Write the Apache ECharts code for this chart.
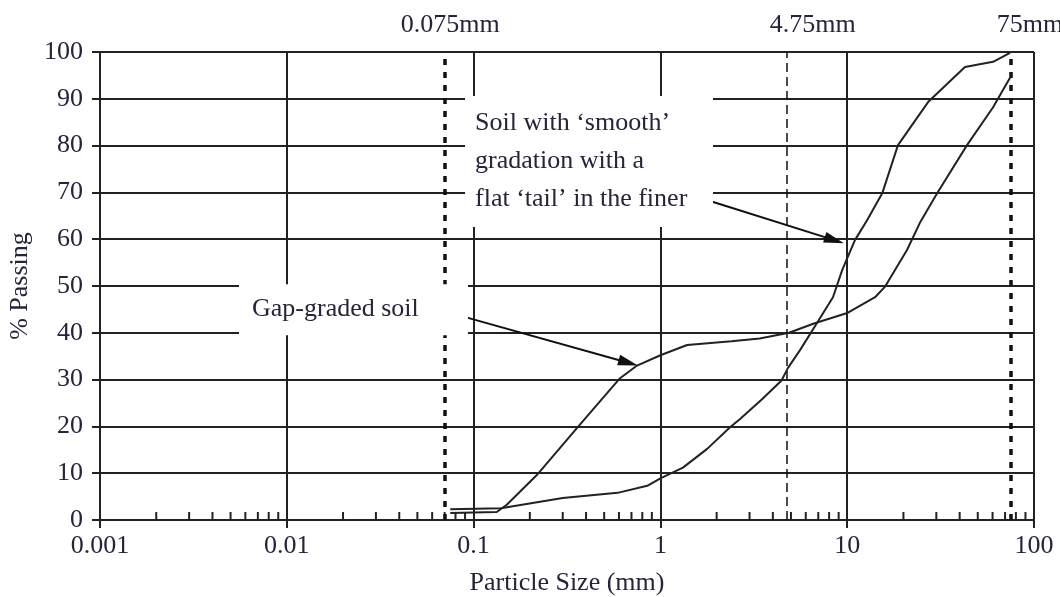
<!DOCTYPE html>
<html><head><meta charset="utf-8">
<script src="https://cdn.jsdelivr.net/npm/echarts@6/dist/echarts.min.js"></script>
<style>html,body{margin:0;padding:0;background:#fff}#c{width:1060px;height:597px}</style>
</head><body><div id="c"></div>
<script>
// ---- data ----
const xTickLabels = ['0.001', '0.01', '0.1', '1', '10', '100'];
const smoothSize = [0.075, 0.14, 0.3, 0.59, 0.85, 1.0, 1.32, 1.78, 2.36, 2.67, 3.5, 4.45, 4.82, 5.59, 6.89, 8.39, 9.4, 11.0, 12.8, 15.4, 18.7, 27.1, 42.7, 60.4, 74.4];
const smoothPass = [2.3, 2.5, 4.7, 5.8, 7.3, 8.9, 11.2, 15.2, 19.8, 21.6, 25.8, 29.8, 32.5, 36.3, 42.1, 47.6, 53.4, 59.8, 64.1, 69.8, 80.1, 89.3, 96.8, 97.9, 99.8];
const gapSize = [0.075, 0.133, 0.15, 0.218, 0.362, 0.608, 0.75, 1.0, 1.39, 2.4, 3.4, 4.88, 6.64, 10.1, 14.1, 15.9, 20.9, 24.5, 30.3, 43.8, 60.4, 74.4];
const gapPass = [1.5, 1.7, 3.2, 9.6, 19.9, 30.3, 33.0, 35.2, 37.4, 38.2, 38.8, 40.0, 42.0, 44.3, 47.6, 49.8, 57.7, 63.5, 69.8, 80.1, 88.2, 94.5];
const refSizes = [0.075, 4.75, 75];
const refLabels = ['0.075mm', '4.75mm', '75mm'];
const minorMultipliers = [2, 3, 4, 5, 6, 7, 8, 9];
const minorDecades = [0.001, 0.01, 0.1, 1, 10];
const noteSmooth = ['Soil with \u2018smooth\u2019', 'gradation with a', 'flat \u2018tail\u2019 in the finer'];
const noteGap = ['Gap-graded soil'];
// arrows: [from, to] in data coords
const arrowSmooth = [[1.9, 68.0], [8.53, 59.8]];
const arrowGap = [[0.0757, 44.2], [0.673, 33.6]];

// ---- styles / layout ----
const FONT = 'Liberation Serif';
const FS = 26;
const INK = '#222';
const TXT = '#24243a';
const refStyles = [
  {type: [6, 7], width: 3.5},
  {type: [9, 5], width: 1.5},
  {type: [6, 7], width: 3.5}
];
const refLabelAlign = ['center', 'left', 'left'];
const refLabelDx = [0, -17, -14];
// boxes (data coords of corners)
const boxSmooth = {x0: 0.090, x1: 1.912, y0: 90.6, y1: 62.6, padLeft: 10};
const boxGap = {x0: 0.00555, x1: 0.0933, y0: 50.4, y1: 39.5, padLeft: 13};

const pairs = (a, b) => a.map((v, i) => [v, b[i]]);
const minorTicks = [];
minorDecades.forEach(d => minorMultipliers.forEach(m => minorTicks.push([d * m, 0])));

const chart = echarts.init(document.getElementById('c'));
const txt = {fontFamily: FONT, fontSize: FS, color: TXT};
chart.setOption({
  animation: false,
  grid: {left: 100, right: 26, top: 52, bottom: 77, containLabel: false, outerBoundsMode: 'none'},
  xAxis: {
    type: 'log', logBase: 10, min: 0.001, max: 100,
    name: 'Particle Size (mm)', nameLocation: 'middle', nameGap: 50,
    nameTextStyle: txt,
    axisLine: {show: true, onZero: false, lineStyle: {color: INK, width: 2}},
    axisTick: {show: true, inside: false, length: 8, lineStyle: {color: INK, width: 2}},
    axisLabel: Object.assign({margin: 13, formatter: v => xTickLabels[Math.round(Math.log10(v)) + 3]}, txt),
    splitLine: {show: true, lineStyle: {color: INK, width: 2}},
    minorTick: {show: false}
  },
  yAxis: {
    type: 'value', min: 0, max: 100, interval: 10,
    name: '% Passing', nameLocation: 'middle', nameGap: 65,
    nameTextStyle: txt,
    axisLine: {show: true, lineStyle: {color: INK, width: 2}},
    axisTick: {show: true, inside: false, length: 8, lineStyle: {color: INK, width: 2}},
    axisLabel: Object.assign({margin: 17}, txt),
    splitLine: {show: true, lineStyle: {color: INK, width: 2}}
  },
  series: [
    {
      type: 'line', data: pairs(smoothSize, smoothPass), showSymbol: false, symbol: 'none',
      lineStyle: {color: INK, width: 2}, z: 3,
      markLine: {
        silent: true, symbol: 'none', label: {show: false},
        data: refSizes.map((v, i) => ({xAxis: v, lineStyle: {color: '#111', type: refStyles[i].type, width: refStyles[i].width}}))
      }
    },
    {
      type: 'line', data: pairs(gapSize, gapPass), showSymbol: false, symbol: 'none',
      lineStyle: {color: INK, width: 2}, z: 3,
      markLine: {
        silent: true, symbol: ['none', 'triangle'], symbolSize: [11, 20], label: {show: false},
        lineStyle: {color: '#111', type: 'solid', width: 2},
        data: [
          [{coord: arrowSmooth[0]}, {coord: arrowSmooth[1]}],
          [{coord: arrowGap[0]}, {coord: arrowGap[1]}]
        ]
      }
    },
    {
      type: 'custom', data: minorTicks, clip: false, silent: true, z: 4,
      renderItem: (params, api) => {
        const p = api.coord([api.value(0), 0]);
        return {type: 'line', shape: {x1: p[0], y1: p[1], x2: p[0], y2: p[1] - 8}, style: {stroke: INK, lineWidth: 2}};
      }
    }
  ]
});

const px = (x, y) => chart.convertToPixel({xAxisIndex: 0, yAxisIndex: 0}, [x, y]);
const gridTop = px(1, 100)[1];
function box(b, lines) {
  const a = px(b.x0, b.y0), c = px(b.x1, b.y1);
  return [
    {type: 'rect', z: 50, shape: {x: a[0], y: a[1], width: c[0] - a[0], height: c[1] - a[1]}, style: {fill: '#fff'}},
    {type: 'text', z: 51, x: a[0] + b.padLeft, y: (a[1] + c[1]) / 2,
      style: {text: lines.join('\n'), fontFamily: FONT, fontSize: FS, fill: TXT, align: 'left', verticalAlign: 'middle', lineHeight: 38}}
  ];
}
const graphics = [].concat(box(boxSmooth, noteSmooth), box(boxGap, noteGap));
refSizes.forEach((v, i) => {
  const p = px(v, 100);
  graphics.push({type: 'text', z: 51, x: p[0] + refLabelDx[i], y: gridTop - 27,
    style: {text: refLabels[i], fontFamily: FONT, fontSize: FS, fill: TXT, align: refLabelAlign[i], verticalAlign: 'middle'}});
});
chart.setOption({graphic: graphics});
</script></body></html>
